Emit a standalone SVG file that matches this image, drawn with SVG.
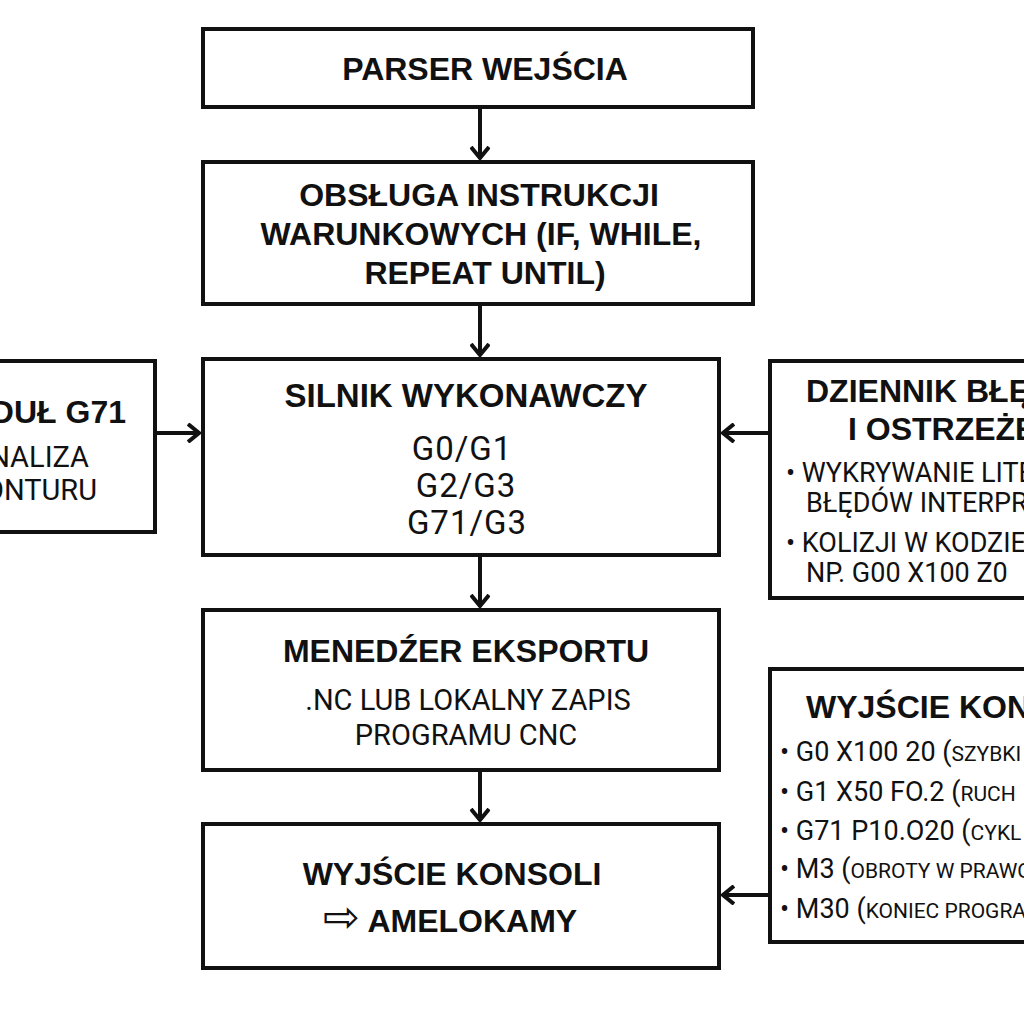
<svg xmlns="http://www.w3.org/2000/svg" width="1024" height="1024" viewBox="0 0 1024 1024">
<style>
.box{fill:#fff;stroke:#111;stroke-width:4}
.t{font-family:"Liberation Sans",Arial,sans-serif;font-weight:bold;font-size:32px;fill:#111;text-anchor:middle}
.b{font-family:Roboto,"Liberation Sans",sans-serif;font-size:29px;fill:#111;text-anchor:middle}
.g{font-size:33px;letter-spacing:1px}
.s{font-family:Roboto,"Liberation Sans",sans-serif;font-size:27px;fill:#111}
.sc{font-size:21px}
.c{fill:none;stroke:#111;stroke-width:4}
</style>
<defs>
<marker id="arr" viewBox="0 0 14 20" refX="12" refY="10" markerWidth="14" markerHeight="20" markerUnits="userSpaceOnUse" orient="auto">
<path d="M1,1 L12,10 L1,19" fill="none" stroke="#111" stroke-width="4"/>
</marker>
</defs>
<rect width="1024" height="1024" fill="#fff"/>
<g id="connectors">
<line class="c" x1="480" y1="107" x2="480" y2="158" marker-end="url(#arr)"/>
<line class="c" x1="480" y1="304" x2="480" y2="355" marker-end="url(#arr)"/>
<line class="c" x1="480" y1="555" x2="480" y2="606" marker-end="url(#arr)"/>
<line class="c" x1="480" y1="770" x2="480" y2="820" marker-end="url(#arr)"/>
<line class="c" x1="155" y1="433" x2="199" y2="433" marker-end="url(#arr)"/>
<line class="c" x1="770" y1="433" x2="723" y2="433" marker-end="url(#arr)"/>
<line class="c" x1="770" y1="895" x2="723" y2="895" marker-end="url(#arr)"/>
</g>
<g id="parser">
<rect class="box" x="203" y="29" width="550" height="78"/>
<text class="t" x="485" y="80">PARSER WEJŚCIA</text>
</g>
<g id="obsluga">
<rect class="box" x="203" y="162" width="550" height="142"/>
<text class="t" x="479" y="206">OBSŁUGA INSTRUKCJI</text>
<text class="t" x="481" y="245">WARUNKOWYCH (IF, WHILE,</text>
<text class="t" x="485" y="284">REPEAT UNTIL)</text>
</g>
<g id="silnik">
<rect class="box" x="203" y="359" width="516" height="196"/>
<text class="t" x="466" y="407" style="font-size:33px">SILNIK WYKONAWCZY</text>
<text class="b g" x="462" y="460">G0/G1</text>
<text class="b g" x="466" y="497">G2/G3</text>
<text class="b g" x="467" y="534">G71/G3</text>
</g>
<g id="menedzer">
<rect class="box" x="203" y="610" width="516" height="160"/>
<text class="t" x="466" y="662">MENEDŹER EKSPORTU</text>
<text class="b" x="468" y="710">.NC LUB LOKALNY ZAPIS</text>
<text class="b" x="466" y="745">PROGRAMU CNC</text>
</g>
<g id="wyjscie">
<rect class="box" x="203" y="824" width="516" height="144"/>
<text class="t" x="452" y="885">WYJŚCIE KONSOLI</text>
<text class="t" x="450" y="932"><tspan font-family="DejaVu Sans,sans-serif" font-weight="normal" font-size="44">⇨</tspan> AMELOKAMY</text>
</g>
<g id="modul">
<rect class="box" x="-20" y="361" width="175" height="171"/>
<text class="t" x="126" y="423" style="text-anchor:end">MODUŁ G71</text>
<text class="b" x="89" y="467" style="text-anchor:end">ANALIZA</text>
<text class="b" x="97" y="500" style="text-anchor:end">KONTURU</text>
</g>
<g id="dziennik">
<rect class="box" x="770" y="361" width="280" height="237"/>
<text class="t" x="806" y="402" style="text-anchor:start">DZIENNIK BŁĘDÓW</text>
<text class="t" x="848" y="440" style="text-anchor:start">I OSTRZEŻEŃ</text>
<text class="s" x="786" y="482">• WYKRYWANIE LITERÓWEK</text>
<text class="s" x="806" y="512">BŁĘDÓW INTERPRETACJI</text>
<text class="s" x="786" y="552">• KOLIZJI W KODZIE</text>
<text class="s" x="806" y="582">NP. G00 X100 Z0</text>
</g>
<g id="konsola">
<rect class="box" x="770" y="669" width="280" height="273"/>
<text class="t" x="806" y="718" style="text-anchor:start">WYJŚCIE KONSOLI</text>
<text class="s" x="780" y="761">• G0 X100 20 (<tspan class="sc">SZYBKI</tspan></text>
<text class="s" x="780" y="801">• G1 X50 FO.2 (<tspan class="sc">RUCH</tspan></text>
<text class="s" x="780" y="840">• G71 P10.O20 (<tspan class="sc">CYKL Z</tspan></text>
<text class="s" x="780" y="878">• M3 (<tspan class="sc">OBROTY W PRAWO</tspan></text>
<text class="s" x="780" y="918">• M30 (<tspan class="sc">KONIEC PROGRAMU</tspan></text>
</g>
</svg>
